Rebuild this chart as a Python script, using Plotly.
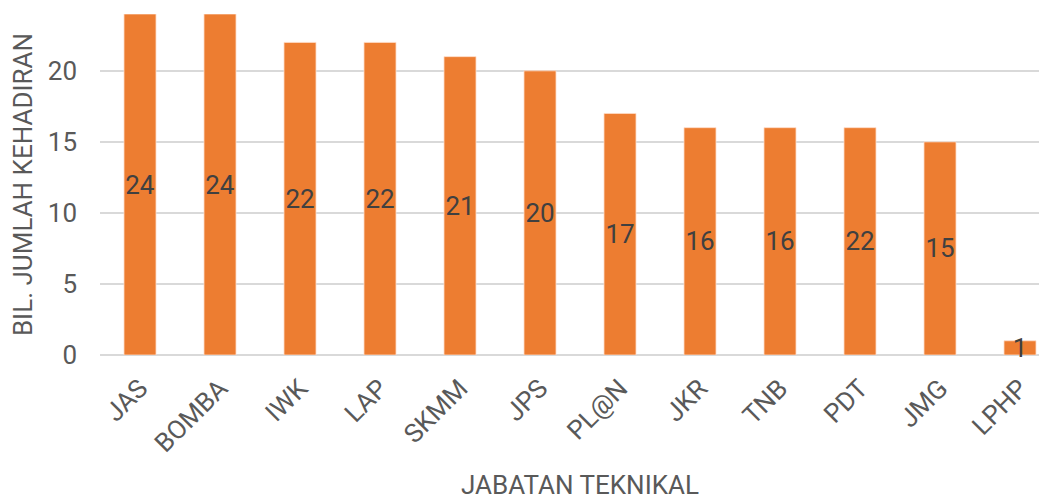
import plotly.graph_objects as go

categories = ["JAS", "BOMBA", "IWK", "LAP", "SKMM", "JPS", "PL@N", "JKR", "TNB", "PDT", "JMG", "LPHP"]
values = [24, 24, 22, 22, 21, 20, 17, 16, 16, 16, 15, 1]
labels = ["24", "24", "22", "22", "21", "20", "17", "16", "16", "22", "15", "1"]
y_ticks = [0, 5, 10, 15, 20]

fig = go.Figure(go.Bar(
    x=categories,
    y=values,
    text=labels,
    textposition="inside",
    insidetextanchor="middle",
    constraintext="none",
    textangle=0,
    textfont=dict(family="Roboto", size=26, color="#404040"),
    marker=dict(color="#ED7D31", line=dict(color="rgba(255,220,200,0.8)", width=1)),
    width=0.4,
    cliponaxis=False,
))

# page body has an 8px margin; the plot area runs a little past the right edge, as in the reference
fig.update_layout(
    width=1052, height=492,
    margin=dict(l=92, r=0, t=6, b=145),
    plot_bgcolor="white", paper_bgcolor="white",
    showlegend=False,
    font=dict(family="Roboto", color="#595959"),
)
fig.update_xaxes(
    tickangle=-45,
    automargin=False,
    ticklabelstandoff=12,
    tickfont=dict(family="Roboto", size=26, color="#595959"),
    title=dict(text="JABATAN TEKNIKAL", font=dict(family="Roboto", size=26, color="#595959"), standoff=26),
    showgrid=False, showline=False, ticks="",
)
fig.update_yaxes(
    range=[0, 24],
    automargin=False,
    ticklabelstandoff=22,
    tickvals=y_ticks,
    tickfont=dict(family="Roboto", size=26, color="#595959"),
    title=dict(text="BIL. JUMLAH KEHADIRAN", font=dict(family="Roboto", size=26, color="#595959"), standoff=10),
    showgrid=True, gridcolor="#D9D9D9", gridwidth=1.5,
    zeroline=True, zerolinecolor="#D9D9D9", zerolinewidth=1.5,
    showline=False, ticks="",
)

fig.write_html("out.html")
